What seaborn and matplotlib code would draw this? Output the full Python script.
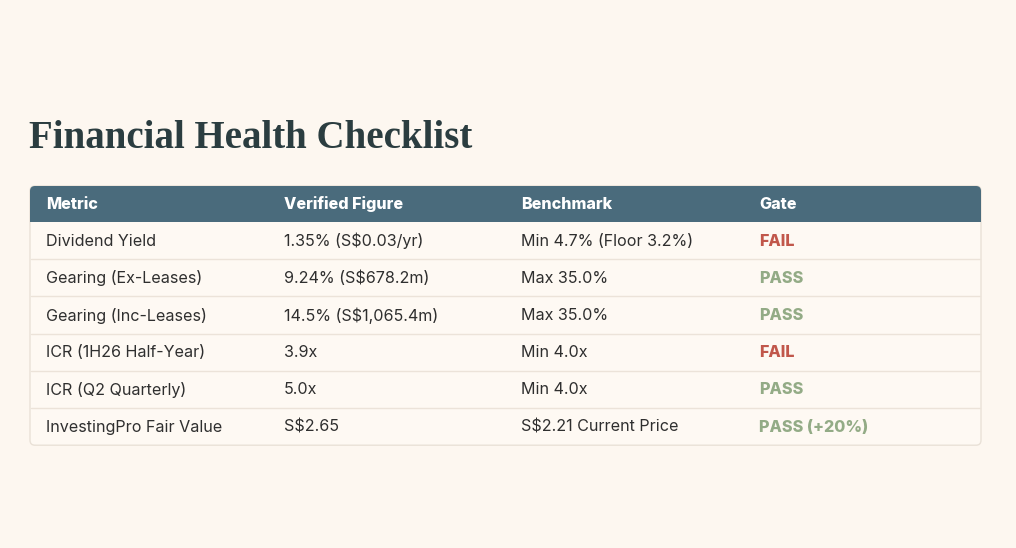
import matplotlib
matplotlib.use("Agg")
import matplotlib.pyplot as plt
import seaborn as sns
from matplotlib.patches import FancyBboxPatch, Rectangle

# table content
title = "Financial Health Checklist"
columns = ["Metric", "Verified Figure", "Benchmark", "Gate"]
metrics = ["Dividend Yield", "Gearing (Ex-Leases)", "Gearing (Inc-Leases)",
           "ICR (1H26 Half-Year)", "ICR (Q2 Quarterly)", "InvestingPro Fair Value"]
figures = ["1.35% (S$0.03/yr)", "9.24% (S$678.2m)", "14.5% (S$1,065.4m)",
           "3.9x", "5.0x", "S$2.65"]
benchmarks = ["Min 4.7% (Floor 3.2%)", "Max 35.0%", "Max 35.0%",
              "Min 4.0x", "Min 4.0x", "S$2.21 Current Price"]
gates = ["FAIL", "PASS", "PASS", "FAIL", "PASS", "PASS (+20%)"]

BG = "#fdf7f0"
HEADER = "#4a6b7c"
TEXT = "#2f2f2f"
LINE = "#ece3d9"
gate_colors = {"FAIL": "#c1574b", "PASS": "#93ab86"}

sns.set_style("white", {"axes.facecolor": BG, "figure.facecolor": BG})
plt.rcParams["font.family"] = ["Inter", "DejaVu Sans"]

fig = plt.figure(figsize=(10.16, 5.48), dpi=100, facecolor=BG)
ax = fig.add_axes([0, 0, 1, 1])
ax.set_xlim(0, 1016)
ax.set_ylim(548, 0)
ax.axis("off")

left, right = 30, 981
top, header_h, row_h = 186, 36, 37.2
n = len(metrics)
bottom = top + header_h + row_h * n
col_x = [46, 284, 521, 759]
fs = 11.6

# outer box
box = FancyBboxPatch((left, top), right - left, bottom - top,
                     boxstyle="round,pad=0,rounding_size=5",
                     facecolor="#fef9f3", edgecolor="#e9e1d7", lw=1, zorder=1)
ax.add_patch(box)
# header band, rounded top corners
hdr = FancyBboxPatch((left, top), right - left, header_h,
                     boxstyle="round,pad=0,rounding_size=5",
                     facecolor=HEADER, edgecolor="none", zorder=2)
ax.add_patch(hdr)
ax.add_patch(Rectangle((left, top + header_h / 2), right - left, header_h / 2,
                       facecolor=HEADER, edgecolor="none", zorder=2))

for x, name in zip(col_x, columns):
    ax.text(x, top + header_h / 2 + 0.5, name, color="white", fontsize=fs,
            fontweight="heavy", va="center", ha="left", zorder=3)

for i in range(n):
    y0 = top + header_h + row_h * i
    yc = y0 + row_h / 2 + 0.5
    if i > 0:
        ax.plot([left + 1, right - 1], [y0, y0], color=LINE, lw=1, zorder=2)
    ax.text(col_x[0], yc, metrics[i], color=TEXT, fontsize=fs, va="center", zorder=3)
    ax.text(col_x[1], yc, figures[i], color=TEXT, fontsize=fs, va="center", zorder=3)
    ax.text(col_x[2], yc, benchmarks[i], color=TEXT, fontsize=fs, va="center", zorder=3)
    ax.text(col_x[3], yc, gates[i], color=gate_colors[gates[i].split()[0]],
            fontsize=fs, fontweight="heavy", va="center", zorder=3)

ax.text(29, 148, title, color="#2b3d40", fontsize=28, fontweight="bold",
        family=["Liberation Serif"], va="baseline", ha="left")

fig.savefig("out.png", dpi=100, facecolor=BG)
